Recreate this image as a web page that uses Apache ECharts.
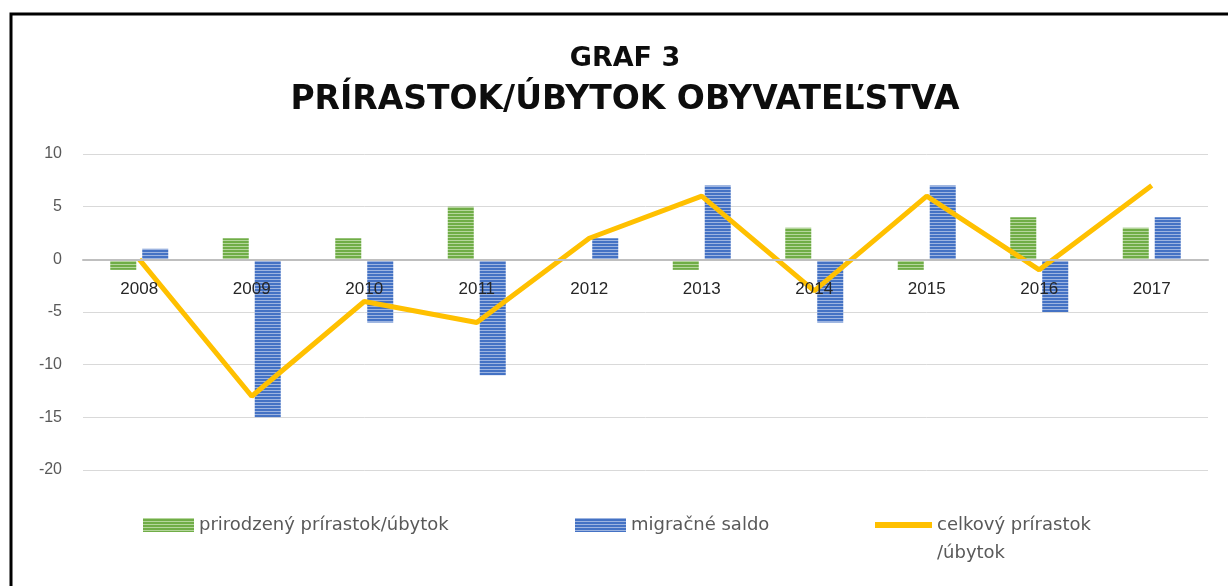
<!DOCTYPE html>
<html>
<head>
<meta charset="utf-8">
<script src="https://cdn.jsdelivr.net/npm/echarts@6/dist/echarts.min.js"></script>
<style>
  html, body { margin: 0; padding: 0; background: #fff; }
  #chart { width: 1228px; height: 586px; }
</style>
</head>
<body>
<div id="chart"></div>
<script>
  // data
  var years = ['2008', '2009', '2010', '2011', '2012', '2013', '2014', '2015', '2016', '2017'];
  var prirodzeny = [-1, 2, 2, 5, 0, -1, 3, -1, 4, 3];
  var migracne = [1, -15, -6, -11, 2, 7, -6, 7, -5, 4];
  var celkovy = [0, -13, -4, -6, 2, 6, -3, 6, -1, 7];
  var yTicks = [-20, -15, -10, -5, 0, 5, 10];

  // horizontal stripes like the excel fill
  function stripes(base, light) {
    var c = document.createElement('canvas');
    c.width = 4;
    c.height = 3;
    var ctx = c.getContext('2d');
    ctx.fillStyle = base;
    ctx.fillRect(0, 0, 4, 3);
    ctx.fillStyle = light;
    ctx.fillRect(0, 0, 4, 1);
    return { image: c, repeat: 'repeat' };
  }

  var greenFill = stripes('#70ad47', '#b5d69c');
  var blueFill = stripes('#4472c4', '#9db4e0');

  var chart = echarts.init(document.getElementById('chart'));
  var legendText = { color: '#595959', fontSize: 18, fontFamily: 'DejaVu Sans' };

  var gridTop = 154, gridBottom = 116;
  var plotH = 586 - gridTop - gridBottom;
  // move the category axis up to the zero line
  var zeroOffset = -plotH * (0 - yTicks[0]) / (yTicks[yTicks.length - 1] - yTicks[0]);

  // legend icon for the 2-line item: the bar sits next to the first line
  var lineIcon = 'path://M0 0L0 0M0 11L57 11L57 17L0 17ZM0 56L0 56';

  var option = {
    backgroundColor: '#fff',
    animation: false,
    graphic: [{
      type: 'rect',
      shape: { x: 11, y: 14, width: 1240, height: 600 },
      style: { fill: 'none', stroke: '#000', lineWidth: 3 },
      z: 100
    }],
    title: [{
      text: 'GRAF 3',
      left: 620,
      top: 40,
      textAlign: 'center',
      textStyle: { fontSize: 27, fontWeight: 'bold', color: '#0d0d0d', fontFamily: 'DejaVu Sans' }
    }, {
      text: 'PRÍRASTOK/ÚBYTOK OBYVATEĽSTVA',
      left: 620,
      top: 79,
      textAlign: 'center',
      textStyle: { fontSize: 33, fontWeight: 'bold', color: '#0d0d0d', fontFamily: 'DejaVu Sans' }
    }],
    legend: [{
      left: 138, top: 511,
      itemWidth: 51, itemHeight: 14,
      data: [{ name: 'prirodzený prírastok/úbytok', icon: 'rect' }],
      textStyle: legendText
    }, {
      left: 570, top: 511,
      itemWidth: 51, itemHeight: 14,
      data: [{ name: 'migračné saldo', icon: 'rect' }],
      textStyle: legendText
    }, {
      left: 870, top: 506,
      itemWidth: 57, itemHeight: 56,
      itemStyle: { borderWidth: 0 },
      data: [{ name: 'celkový prírastok\n/úbytok', icon: lineIcon }],
      textStyle: Object.assign({ lineHeight: 28 }, legendText)
    }],
    grid: { left: 83, right: 20, top: gridTop, bottom: gridBottom },
    xAxis: {
      type: 'category',
      data: years,
      offset: zeroOffset,
      z: 10,
      axisLine: { onZero: false, lineStyle: { color: '#bfbfbf', width: 2 } },
      axisTick: { show: false },
      axisLabel: { margin: 21, fontSize: 17, color: '#262626', fontFamily: 'Liberation Sans' }
    },
    yAxis: {
      type: 'value',
      min: yTicks[0],
      max: yTicks[yTicks.length - 1],
      interval: 5,
      axisLine: { show: false },
      axisTick: { show: false },
      splitLine: { lineStyle: { color: '#d9d9d9', width: 1 } },
      axisLabel: { margin: 21, fontSize: 16, color: '#595959', fontFamily: 'Liberation Sans' }
    },
    series: [{
      name: 'prirodzený prírastok/úbytok',
      type: 'bar',
      data: prirodzeny,
      barWidth: 26,
      barGap: '23%',
      itemStyle: { color: greenFill }
    }, {
      name: 'migračné saldo',
      type: 'bar',
      data: migracne,
      barWidth: 26,
      itemStyle: { color: blueFill }
    }, {
      name: 'celkový prírastok\n/úbytok',
      type: 'line',
      data: celkovy,
      symbol: 'none',
      lineStyle: { color: '#ffc000', width: 5 },
      itemStyle: { color: '#ffc000' },
      z: 5
    }]
  };
  chart.setOption(option);
</script>
</body>
</html>
